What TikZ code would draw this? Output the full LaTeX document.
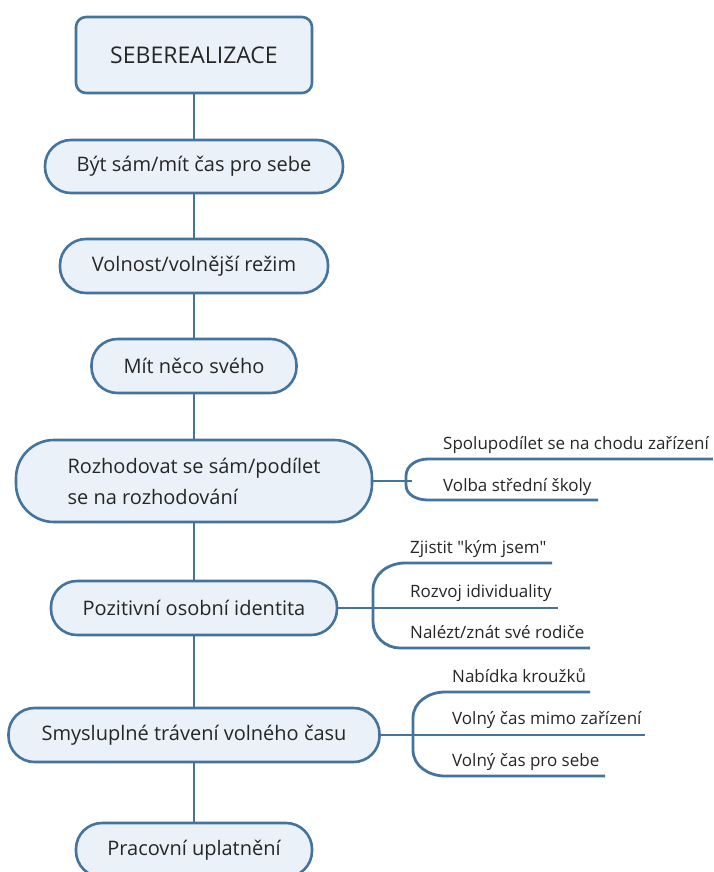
\documentclass[tikz,border=0pt]{standalone}
\usepackage{fontspec}
\setmainfont{Open Sans}
\definecolor{edge}{HTML}{44749E}
\definecolor{boxfill}{HTML}{EAF1F8}
\definecolor{ink}{HTML}{262626}
\begin{document}
\begin{tikzpicture}[x=1pt,y=-1pt,
  box/.style={draw=edge, line width=2.6pt, fill=boxfill, text=ink, rounded corners=26pt,
    inner sep=0pt, font=\fontsize{20}{31}\selectfont},
  link/.style={draw=edge, line width=2.8pt},
  lab/.style={anchor=base west, inner sep=0pt, text=ink, font=\fontsize{17}{20}\selectfont}]
\useasboundingbox (0,0) rectangle (713,872);
\clip (0,0) rectangle (713,872);
\fill[white] (0,0) rectangle (713,872);

% main column
\node[box, minimum width=236pt, minimum height=76pt, rounded corners=10pt,
  font=\fontsize{23}{28}\selectfont] (b1) at (194,55) {SEBEREALIZACE};
\node[box, minimum width=298pt, minimum height=53pt] (b2) at (194,166.5) {Být sám/mít čas pro sebe};
\node[box, minimum width=268pt, minimum height=54pt] (b3) at (194,266) {Volnost/volnější režim};
\node[box, minimum width=205pt, minimum height=54pt] (b4) at (194,366) {Mít něco svého};
\node[box, minimum width=356pt, minimum height=82pt, rounded corners=38pt, align=left] (b5) at (194,481)
  {Rozhodovat se sám/podílet\\se na rozhodování};
\node[box, minimum width=286pt, minimum height=54pt] (b6) at (194,608) {Pozitivní osobní identita};
\node[box, minimum width=371pt, minimum height=54pt] (b7) at (194,735) {Smysluplné trávení volného času};
\node[box, minimum width=236pt, minimum height=54pt] (b8) at (194,850) {Pracovní uplatnění};

\draw[link] (b1.south) -- (b2.north);
\draw[link] (b2.south) -- (b3.north);
\draw[link] (b3.south) -- (b4.north);
\draw[link] (b4.south) -- (b5.north);
\draw[link] (b5.south) -- (b6.north);
\draw[link] (b6.south) -- (b7.north);
\draw[link] (b7.south) -- (b8.north);

% branch of b5
\coordinate (j5) at (412,481);
\coordinate (t5e) at (713,459);
\coordinate (t5s) at (428,459);
\coordinate (k5a) at (406,476);
\coordinate (k5b) at (406,485);
\coordinate (u5s) at (428,500);
\coordinate (u5e) at (598,500);
\draw[link] (b5.east) -- (j5);
\draw[link] (t5e) -- (t5s) to[out=180,in=90] (k5a) -- (k5b) to[out=-90,in=180] (u5s) -- (u5e);
\node[lab] (l51) at (443,449) {Spolupodílet se na chodu zařízení};
\node[lab] (l52) at (443,491) {Volba střední školy};

% branch of b6
\coordinate (t6e) at (552,563);
\coordinate (t6s) at (405,563);
\coordinate (k6a) at (373,590);
\coordinate (k6b) at (373,622);
\coordinate (u6s) at (400,648);
\coordinate (u6e) at (590,648);
\coordinate (m6e) at (558,608);
\draw[link] (b6.east) -- (m6e);
\draw[link] (t6e) -- (t6s) to[out=180,in=90] (k6a) -- (k6b) to[out=-90,in=180] (u6s) -- (u6e);
\node[lab] (l61) at (410,553) {Zjistit \textquotedbl kým jsem\textquotedbl};
\node[lab] (l62) at (410,597) {Rozvoj idividuality};
\node[lab] (l63) at (410,638) {Nalézt/znát své rodiče};

% branch of b7
\coordinate (t7e) at (590,692);
\coordinate (t7s) at (445,692);
\coordinate (k7a) at (413,718);
\coordinate (k7b) at (413,750);
\coordinate (u7s) at (445,776);
\coordinate (u7e) at (605,776);
\coordinate (m7e) at (645,735);
\draw[link] (b7.east) -- (m7e);
\draw[link] (t7e) -- (t7s) to[out=180,in=90] (k7a) -- (k7b) to[out=-90,in=180] (u7s) -- (u7e);
\node[lab] (l71) at (452,682) {Nabídka kroužků};
\node[lab] (l72) at (452,724) {Volný čas mimo zařízení};
\node[lab] (l73) at (452,766) {Volný čas pro sebe};
\end{tikzpicture}
\end{document}
